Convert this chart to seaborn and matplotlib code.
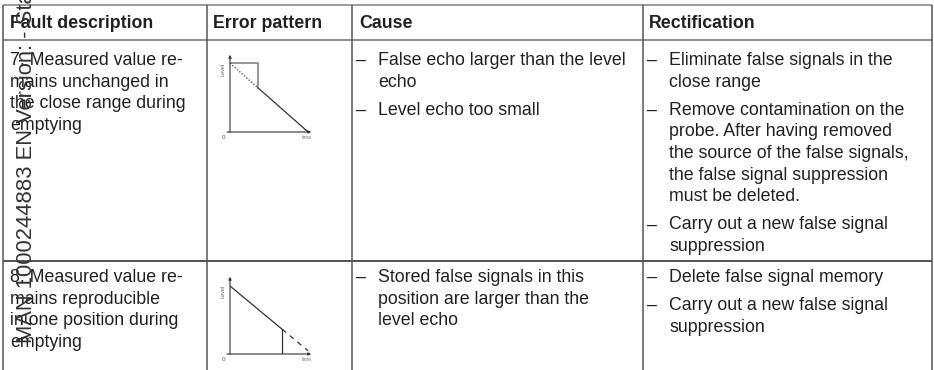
import matplotlib.pyplot as plt
import seaborn as sns

# Table content
headers = ['Fault description', 'Error pattern', 'Cause', 'Rectification']
header_x = [10, 213, 359, 649]
col_edges = [3, 207, 352, 643, 932]
row_edges = [5, 40, 261]

fault_7 = ['7. Measured value re-', 'mains unchanged in', 'the close range during', 'emptying']
cause_7 = [['False echo larger than the level', 'echo'],
           ['Level echo too small']]
rect_7 = [['Eliminate false signals in the', 'close range'],
          ['Remove contamination on the', 'probe. After having removed',
           'the source of the false signals,', 'the false signal suppression',
           'must be deleted.'],
          ['Carry out a new false signal', 'suppression']]

fault_8 = ['8. Measured value re-', 'mains reproducible', 'in one position during', 'emptying']
cause_8 = [['Stored false signals in this', 'position are larger than the', 'level echo']]
rect_8 = [['Delete false signal memory'],
          ['Carry out a new false signal', 'suppression']]

watermark = 'MAN 1000244883 EN Version: - Status: RELEASED - Released'

# Error pattern sketches (time / level, both 0..1)
p7_time = [0.0, 0.33, 0.93]
p7_level = [0.86, 0.555, 0.0]
p7_false_time = [0.0, 0.33, 0.33]
p7_false_level = [0.86, 0.86, 0.555]

p8_time = [0.0, 0.62, 0.93]
p8_level = [0.85, 0.31, 0.04]
p8_stuck_time = [0.62, 0.62]
p8_stuck_level = [0.31, 0.0]

sns.set_theme(style='white')
plt.rcParams['font.family'] = ['Liberation Sans', 'DejaVu Sans']

W, H = 934, 370
fig = plt.figure(figsize=(W / 100, H / 100), dpi=100)
ax = fig.add_axes([0, 0, 1, 1])
ax.set_xlim(0, W)
ax.set_ylim(H, 0)
ax.axis('off')

txt = '#231f20'
fs = 12.8
step = 21.7
gap = 28

# grid lines
ax.hlines(row_edges[0], col_edges[0], col_edges[-1], color='#8a8a8a', lw=1.2)
ax.hlines(row_edges[1], col_edges[0], col_edges[-1], color='#7a7a7a', lw=1.2)
ax.hlines(row_edges[2], col_edges[0], col_edges[-1], color='#222222', lw=1.1)
ax.vlines(col_edges, row_edges[0], H, color='#555555', lw=1.1)

for x, h in zip(header_x, headers):
    ax.text(x, 28, h, fontsize=fs, fontweight='bold', color=txt, va='baseline')


def draw_lines(lines, x, y0):
    for i, line in enumerate(lines):
        ax.text(x, y0 + i * step, line, fontsize=fs, color=txt, va='baseline')


def draw_bullets(bullets, x_dash, x_text, y0):
    y = y0
    for b in bullets:
        ax.text(x_dash, y, '–', fontsize=fs, color=txt, va='baseline')
        for line in b:
            ax.text(x_text, y, line, fontsize=fs, color=txt, va='baseline')
            y += step
        y += gap - step


draw_lines(fault_7, 10, 65)
draw_bullets(cause_7, 356, 378, 65)
draw_bullets(rect_7, 647, 669, 65)

draw_lines(fault_8, 10, 282)
draw_bullets(cause_8, 356, 378, 282)
draw_bullets(rect_8, 647, 669, 282)


def sketch(y_origin):
    sx = fig.add_axes([230 / W, 1 - y_origin / H, 84 / W, 80 / H])
    sx.set_xlim(0, 1)
    sx.set_ylim(0, 1)
    arrow = dict(arrowstyle='-|>', lw=0.8, color='#333333', mutation_scale=4)
    sx.annotate('', xy=(0, 1.0), xytext=(0, -0.04), arrowprops=arrow, annotation_clip=False)
    sx.annotate('', xy=(1.0, 0), xytext=(-0.07, 0), arrowprops=arrow, annotation_clip=False)
    sx.text(-0.05, 0.78, 'Level', rotation=90, fontsize=4, color='#666666',
            ha='right', va='center')
    sx.text(-0.06, -0.04, '0', fontsize=4.5, color='#555555', ha='right', va='top')
    sx.text(0.98, -0.04, 'time', fontsize=3.8, color='#777777', ha='right', va='top')
    return sx


s7 = sketch(132)
sns.lineplot(x=p7_false_time, y=p7_false_level, ax=s7, color='#8c8c8c', lw=1.3,
             estimator=None, sort=False)
sns.lineplot(x=p7_time[:2], y=p7_level[:2], ax=s7, color='#333333', lw=0.9,
             linestyle=(0, (1, 1.5)), estimator=None, sort=False)
sns.lineplot(x=p7_time[1:], y=p7_level[1:], ax=s7, color='#333333', lw=0.9,
             estimator=None, sort=False)
s7.set_xlim(0, 1)
s7.set_ylim(0, 1)
s7.axis('off')

s8 = sketch(354)
sns.lineplot(x=p8_time[:2], y=p8_level[:2], ax=s8, color='#333333', lw=0.9,
             estimator=None, sort=False)
sns.lineplot(x=p8_time[1:], y=p8_level[1:], ax=s8, color='#333333', lw=0.9,
             linestyle=(0, (4, 4)), estimator=None, sort=False)
sns.lineplot(x=p8_stuck_time, y=p8_stuck_level, ax=s8, color='#333333', lw=0.9,
             estimator=None, sort=False)
s8.set_xlim(0, 1)
s8.set_ylim(0, 1)
s8.axis('off')

# vertical document reference printed over the left margin
ax.text(32, 343, watermark, rotation=90, rotation_mode='anchor', ha='left',
        va='baseline', fontsize=15.8, color='#333333')

fig.savefig('out.png', dpi=100)
